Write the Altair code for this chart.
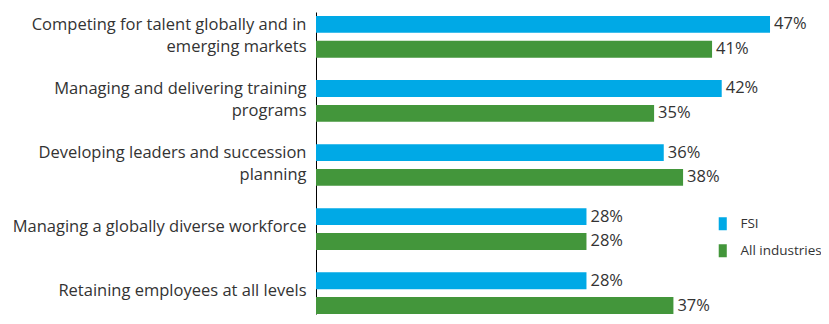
import altair as alt
import pandas as pd

categories = [
    "Competing for talent globally and in|emerging markets",
    "Managing and delivering training|programs",
    "Developing leaders and succession|planning",
    "Managing a globally diverse workforce",
    "Retaining employees at all levels",
]
series = ["FSI", "All industries"]
fsi = [47, 42, 36, 28, 28]
all_ind = [41, 35, 38, 28, 37]
colors = ["#00A9E6", "#43963B"]

rows = []
for c, a, b in zip(categories, fsi, all_ind):
    rows.append({"cat": c, "series": series[0], "value": a, "label": f"{a}%"})
    rows.append({"cat": c, "series": series[1], "value": b, "label": f"{b}%"})
df = pd.DataFrame(rows)

FONT = "Open Sans"

y_enc = alt.Y(
    "cat:N",
    sort=categories,
    scale=alt.Scale(paddingInner=0.349, paddingOuter=0.031, align=1),
    axis=alt.Axis(
        title=None,
        ticks=False,
        domainColor="#000000",
        domainWidth=1,
        labelExpr="split(datum.label, '|')",
        labelFont=FONT,
        labelFontSize=16.5,
        labelColor="#333333",
        labelPadding=10,
        labelLineHeight=22,
        labelLimit=400,
        labelOffset={"condition": {"test": "indexof(datum.label, '|') >= 0", "value": -12}, "value": -2},
    ),
)
yoff = alt.YOffset("series:N", sort=series, scale=alt.Scale(paddingInner=0.32, paddingOuter=0))
x_enc = alt.X(
    "value:Q",
    scale=alt.Scale(domain=[0, 50], nice=False),
    axis=None,
)

bars = alt.Chart(df).mark_bar().encode(
    x=x_enc,
    y=y_enc,
    yOffset=yoff,
    color=alt.Color(
        "series:N",
        sort=series,
        scale=alt.Scale(domain=series, range=colors),
        legend=alt.Legend(
            title=None,
            orient="none",
            legendX=400,
            legendY=205,
            symbolType="M-0.62,-1H0.62V1H-0.62Z",
            symbolSize=169,
            symbolStrokeWidth=0,
            labelFont=FONT,
            labelFontSize=13.5,
            labelColor="#333333",
            labelOffset=11,
            rowPadding=12,
        ),
    ),
)

texts = alt.Chart(df).mark_text(
    align="left", baseline="middle", dx=4, font=FONT, fontSize=16.5, color="#333333"
).encode(
    x=x_enc,
    y=alt.Y("cat:N", sort=categories),
    yOffset=yoff,
    text="label:N",
)

chart = (
    alt.layer(bars, texts)
    .properties(
        width=483,
        height=302,
        background="#ffffff",
        autosize=alt.AutoSizeParams(type="none"),
        padding={"left": 308, "top": 4, "right": 22, "bottom": 2},
    )
    .configure_view(stroke=None, strokeWidth=0)
)

chart.save("out.html", embed_options={"renderer": "svg", "actions": False})
